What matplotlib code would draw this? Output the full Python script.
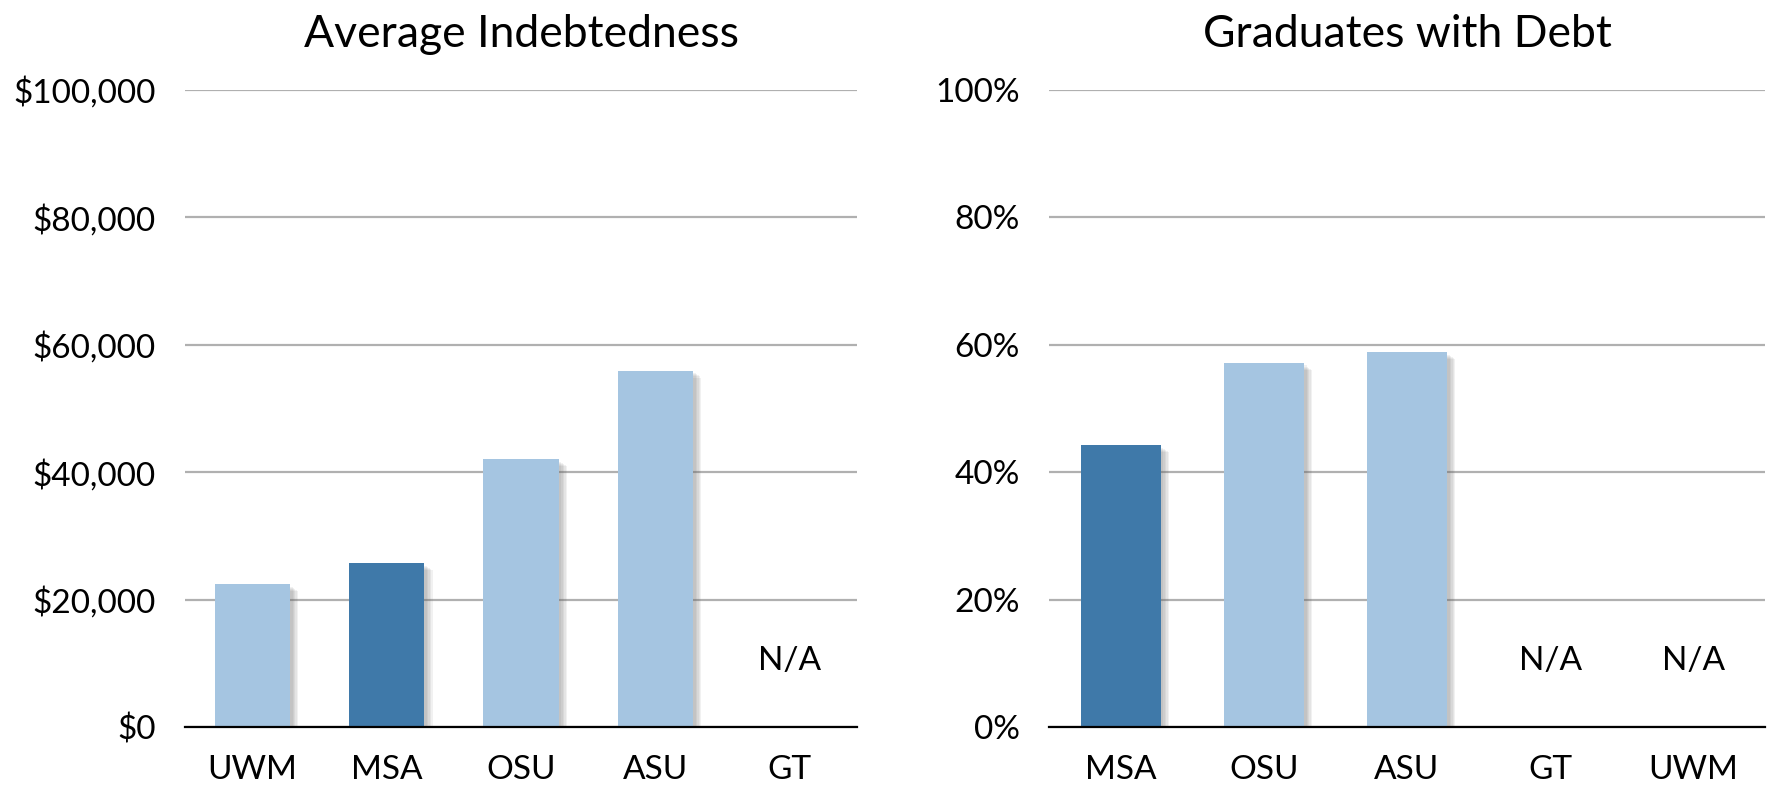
# -*- coding: utf-8 -*-
# 平均负债与有负债毕业生比例对比图

import matplotlib.pyplot as plt
import matplotlib.patheffects as pe
from matplotlib.ticker import FuncFormatter

# 数据
debt_schools = ['UWM', 'MSA', 'OSU', 'ASU', 'GT']
debt_values = [22400, 25700, 42000, 55900, None]

pct_schools = ['MSA', 'OSU', 'ASU', 'GT', 'UWM']
pct_values = [44.2, 57.1, 58.8, None, None]

highlight = 'MSA'
light = '#A5C5E1'
dark = '#3F79A9'

plt.rcParams['font.family'] = ['Lato', 'DejaVu Sans']

fig = plt.figure(figsize=(17.88, 7.88), dpi=100)
ax1 = fig.add_axes([185 / 1788, 1 - 727 / 788, 672 / 1788, 637 / 788])
ax2 = fig.add_axes([1049 / 1788, 1 - 727 / 788, 716 / 1788, 637 / 788])

# 柔和阴影：多层半透明偏移
shadow = [pe.SimplePatchShadow(offset=(o, -o * 0.8), shadow_rgbFace='#666666', alpha=0.09)
          for o in (6, 5, 4, 3, 2)]


def draw(ax, schools, values, ymax, step, fmt, title, na_y):
    x = list(range(len(schools)))
    for i, (s, v) in enumerate(zip(schools, values)):
        if v is None:
            ax.text(i, na_y, 'N/A', ha='center', va='center', fontsize=24)
            continue
        c = dark if s == highlight else light
        b = ax.bar(i, v, width=0.56, color=c, zorder=3)[0]
        b.set_path_effects(shadow + [pe.Normal()])
    ax.set_xlim(-0.5, len(schools) - 0.5)
    ax.set_ylim(0, ymax)
    ax.set_yticks([step * k for k in range(6)])
    ax.yaxis.set_major_formatter(FuncFormatter(fmt))
    ax.set_xticks(x)
    ax.set_xticklabels(schools)
    ax.tick_params(length=0, labelsize=24)
    ax.tick_params(axis='y', pad=21)
    ax.tick_params(axis='x', pad=20)
    ax.grid(axis='y', color='#B0B0B0', linewidth=1.6, zorder=0)
    for sp in ['top', 'right', 'left']:
        ax.spines[sp].set_visible(False)
    ax.spines['bottom'].set_color('black')
    ax.spines['bottom'].set_linewidth(1.6)
    ax.spines['bottom'].set_zorder(4)
    ax.set_title(title, fontsize=32, pad=31)


draw(ax1, debt_schools, debt_values, 100000, 20000,
     lambda v, p: '${:,.0f}'.format(v), 'Average Indebtedness', 10400)
draw(ax2, pct_schools, pct_values, 100, 20,
     lambda v, p: '{:.0f}%'.format(v), 'Graduates with Debt', 10.4)

fig.savefig('out.png', dpi=100)
